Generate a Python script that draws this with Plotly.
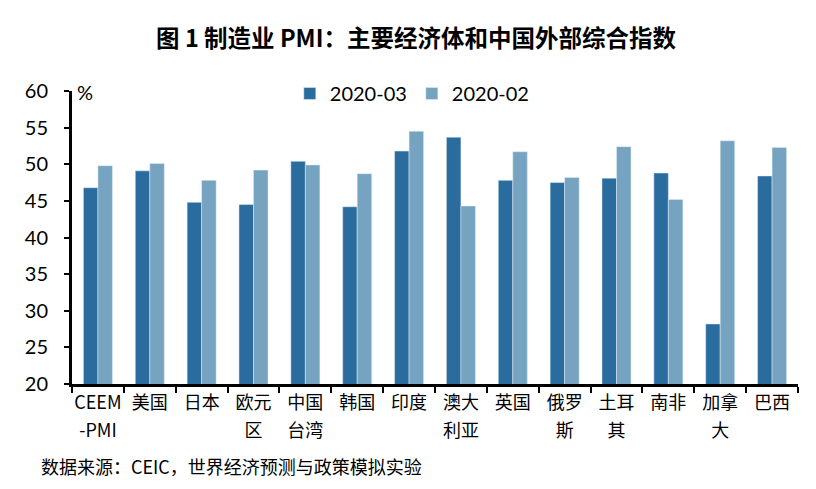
import plotly.graph_objects as go

categories = ["CEEM-PMI", "美国", "日本", "欧元区", "中国台湾", "韩国", "印度",
              "澳大利亚", "英国", "俄罗斯", "土耳其", "南非", "加拿大", "巴西"]
label_line1 = ["CEEM", "美国", "日本", "欧元", "中国", "韩国", "印度",
               "澳大", "英国", "俄罗", "土耳", "南非", "加拿", "巴西"]
label_line2 = ["-PMI", "", "", "区", "台湾", "", "",
               "利亚", "", "斯", "其", "", "大", ""]
mar_2020 = [46.8, 49.1, 44.8, 44.5, 50.4, 44.2, 51.8, 53.7, 47.8, 47.5, 48.1, 48.8, 28.2, 48.4]
feb_2020 = [49.8, 50.1, 47.8, 49.2, 49.9, 48.7, 54.5, 44.3, 51.7, 48.2, 52.4, 45.2, 53.2, 52.3]
y_ticks = [20, 25, 30, 35, 40, 45, 50, 55, 60]

dark = "#2B6C9E"
light = "#75A3C0"
cjk = "Noto Sans CJK SC"

fig = go.Figure()
fig.add_trace(go.Bar(x=categories, y=mar_2020, name="2020-03", marker_color=dark))
fig.add_trace(go.Bar(x=categories, y=feb_2020, name="2020-02", marker_color=light))
# empty helper trace so the second-line label axis is drawn
fig.add_trace(go.Scatter(x=[], y=[], xaxis="x2", yaxis="y", showlegend=False,
                         hoverinfo="skip", mode="markers"))

n = len(categories)
fig.update_layout(
    width=816, height=489,
    paper_bgcolor="white", plot_bgcolor="white",
    margin=dict(l=64, r=26, t=83, b=113),
    barmode="group", bargap=0.44, bargroupgap=0,
    title=dict(text="<b>图 1 制造业 PMI：主要经济体和中国外部综合指数</b>",
               x=0.5, xanchor="center", y=0.938, yanchor="middle",
               font=dict(family=cjk, size=23.5, color="black")),
    legend=dict(orientation="h", x=0.30, xanchor="left", y=1.058, yanchor="top",
                font=dict(family="Lato", size=20, color="black"),
                itemwidth=30, bgcolor="rgba(0,0,0,0)", traceorder="normal"),
    font=dict(family=cjk, color="black"),
    showlegend=True,
    xaxis=dict(
        type="category",
        tickvals=categories, ticktext=label_line1,
        showline=True, linecolor="black", linewidth=3,
        ticks="outside", tickson="boundaries", ticklen=6, tickwidth=2, tickcolor="black",
        tickangle=0,
        tickfont=dict(family=cjk, size=18, color="black"),
        showgrid=False,
    ),
    xaxis2=dict(
        overlaying="x", side="bottom", anchor="y",
        range=[-0.5, n - 0.5], autorange=False,
        tickmode="array", tickvals=list(range(n)), ticktext=label_line2,
        showline=False, ticks="", tickangle=0, ticklabelstandoff=34,
        tickfont=dict(family=cjk, size=18, color="black"),
        showgrid=False, zeroline=False,
    ),
)
fig.update_yaxes(
    range=[20, 60], tickvals=y_ticks,
    showline=True, linecolor="black", linewidth=3,
    ticks="outside", ticklen=5, tickwidth=2, tickcolor="black",
    tickfont=dict(family="Lato", size=20, color="black"),
    ticklabelstandoff=12,
    showgrid=False, zeroline=False,
)
fig.add_annotation(text="%", xref="paper", yref="paper", x=0.004, y=1.045,
                   xanchor="left", yanchor="top", showarrow=False,
                   font=dict(family="Lato", size=20, color="black"))
fig.add_annotation(text="数据来源：CEIC，世界经济预测与政策模拟实验",
                   xref="paper", yref="paper", x=-0.045, y=-0.28,
                   xanchor="left", yanchor="middle", showarrow=False,
                   font=dict(family=cjk, size=18, color="black"))
fig.write_html("out.html")
